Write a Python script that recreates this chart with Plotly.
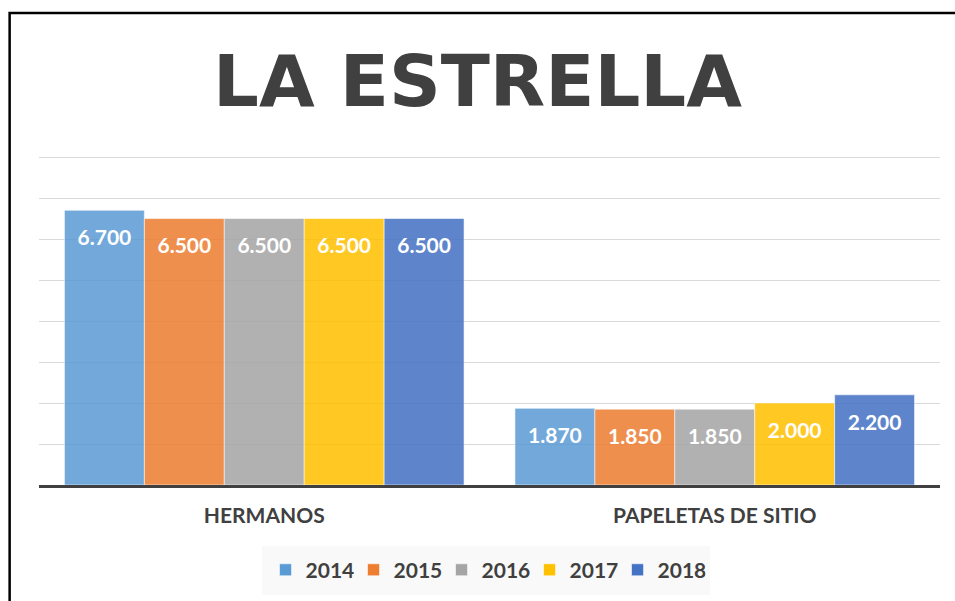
import plotly.graph_objects as go

categories = ["HERMANOS", "PAPELETAS DE SITIO"]
years = ["2014", "2015", "2016", "2017", "2018"]
values = {
    "2014": [6700, 1870],
    "2015": [6500, 1850],
    "2016": [6500, 1850],
    "2017": [6500, 2000],
    "2018": [6500, 2200],
}
colors = {
    "2014": "#5B9BD5",
    "2015": "#ED7D31",
    "2016": "#A5A5A5",
    "2017": "#FFC000",
    "2018": "#4472C4",
}
title_text = "LA ESTRELLA"

fig = go.Figure()
for yr in years:
    fig.add_trace(go.Bar(
        name=yr, x=categories, y=values[yr],
        offsetgroup=yr,
        marker=dict(color=colors[yr], opacity=0.86,
                    line=dict(color="rgba(255,255,255,0.55)", width=1)),
        hoverinfo="skip",
    ))
for yr in years:
    fig.add_trace(go.Scatter(
        x=categories, y=values[yr], offsetgroup=yr,
        mode="markers+text",
        marker=dict(size=29, opacity=0, color=colors[yr]),
        text=[f"{v:,}".replace(",", ".") for v in values[yr]],
        textposition="bottom center",
        textfont=dict(family="Lato", size=21, color="white", weight="bold"),
        showlegend=False, hoverinfo="skip", cliponaxis=False,
    ))

fig.update_layout(
    width=955, height=601,
    margin=dict(l=39, r=15, t=155, b=116, autoexpand=False),
    paper_bgcolor="white", plot_bgcolor="white",
    barmode="group", bargap=0.113, bargroupgap=0,
    scattermode="group", scattergap=0.113,
    title=dict(text=title_text, x=0.5, xanchor="center", y=0.865, yanchor="middle",
               font=dict(family="DejaVu Sans", size=72, color="#404040", weight="bold")),
    xaxis=dict(showline=True, linecolor="#404040", linewidth=3,
               ticks="", ticklabelstandoff=10,
               tickfont=dict(family="Lato", size=21, color="#404040", weight="bold"),
               showgrid=False, zeroline=False, fixedrange=True),
    yaxis=dict(range=[0, 8049], dtick=1000, showticklabels=False,
               gridcolor="#D9D9D9", gridwidth=1, zeroline=False, fixedrange=True),
    legend=dict(orientation="h", x=0.4956, xanchor="center", y=-0.258, yanchor="middle",
                bgcolor="#F9F9F9", bordercolor="#F9F9F9", borderwidth=4,
                font=dict(family="Lato", size=21, color="#404040", weight="bold"),
                itemwidth=30, entrywidth=43, entrywidthmode="pixels", traceorder="normal"),
    shapes=[dict(type="rect", xref="paper", yref="paper",
                 x0=-0.0326, x1=1.2, y0=-0.6, y1=1.4303,
                 line=dict(color="black", width=2.5), fillcolor="rgba(0,0,0,0)", layer="above")],
)
fig.write_html("out.html", config={"displayModeBar": False},
               post_script="document.body.style.margin='0';")
